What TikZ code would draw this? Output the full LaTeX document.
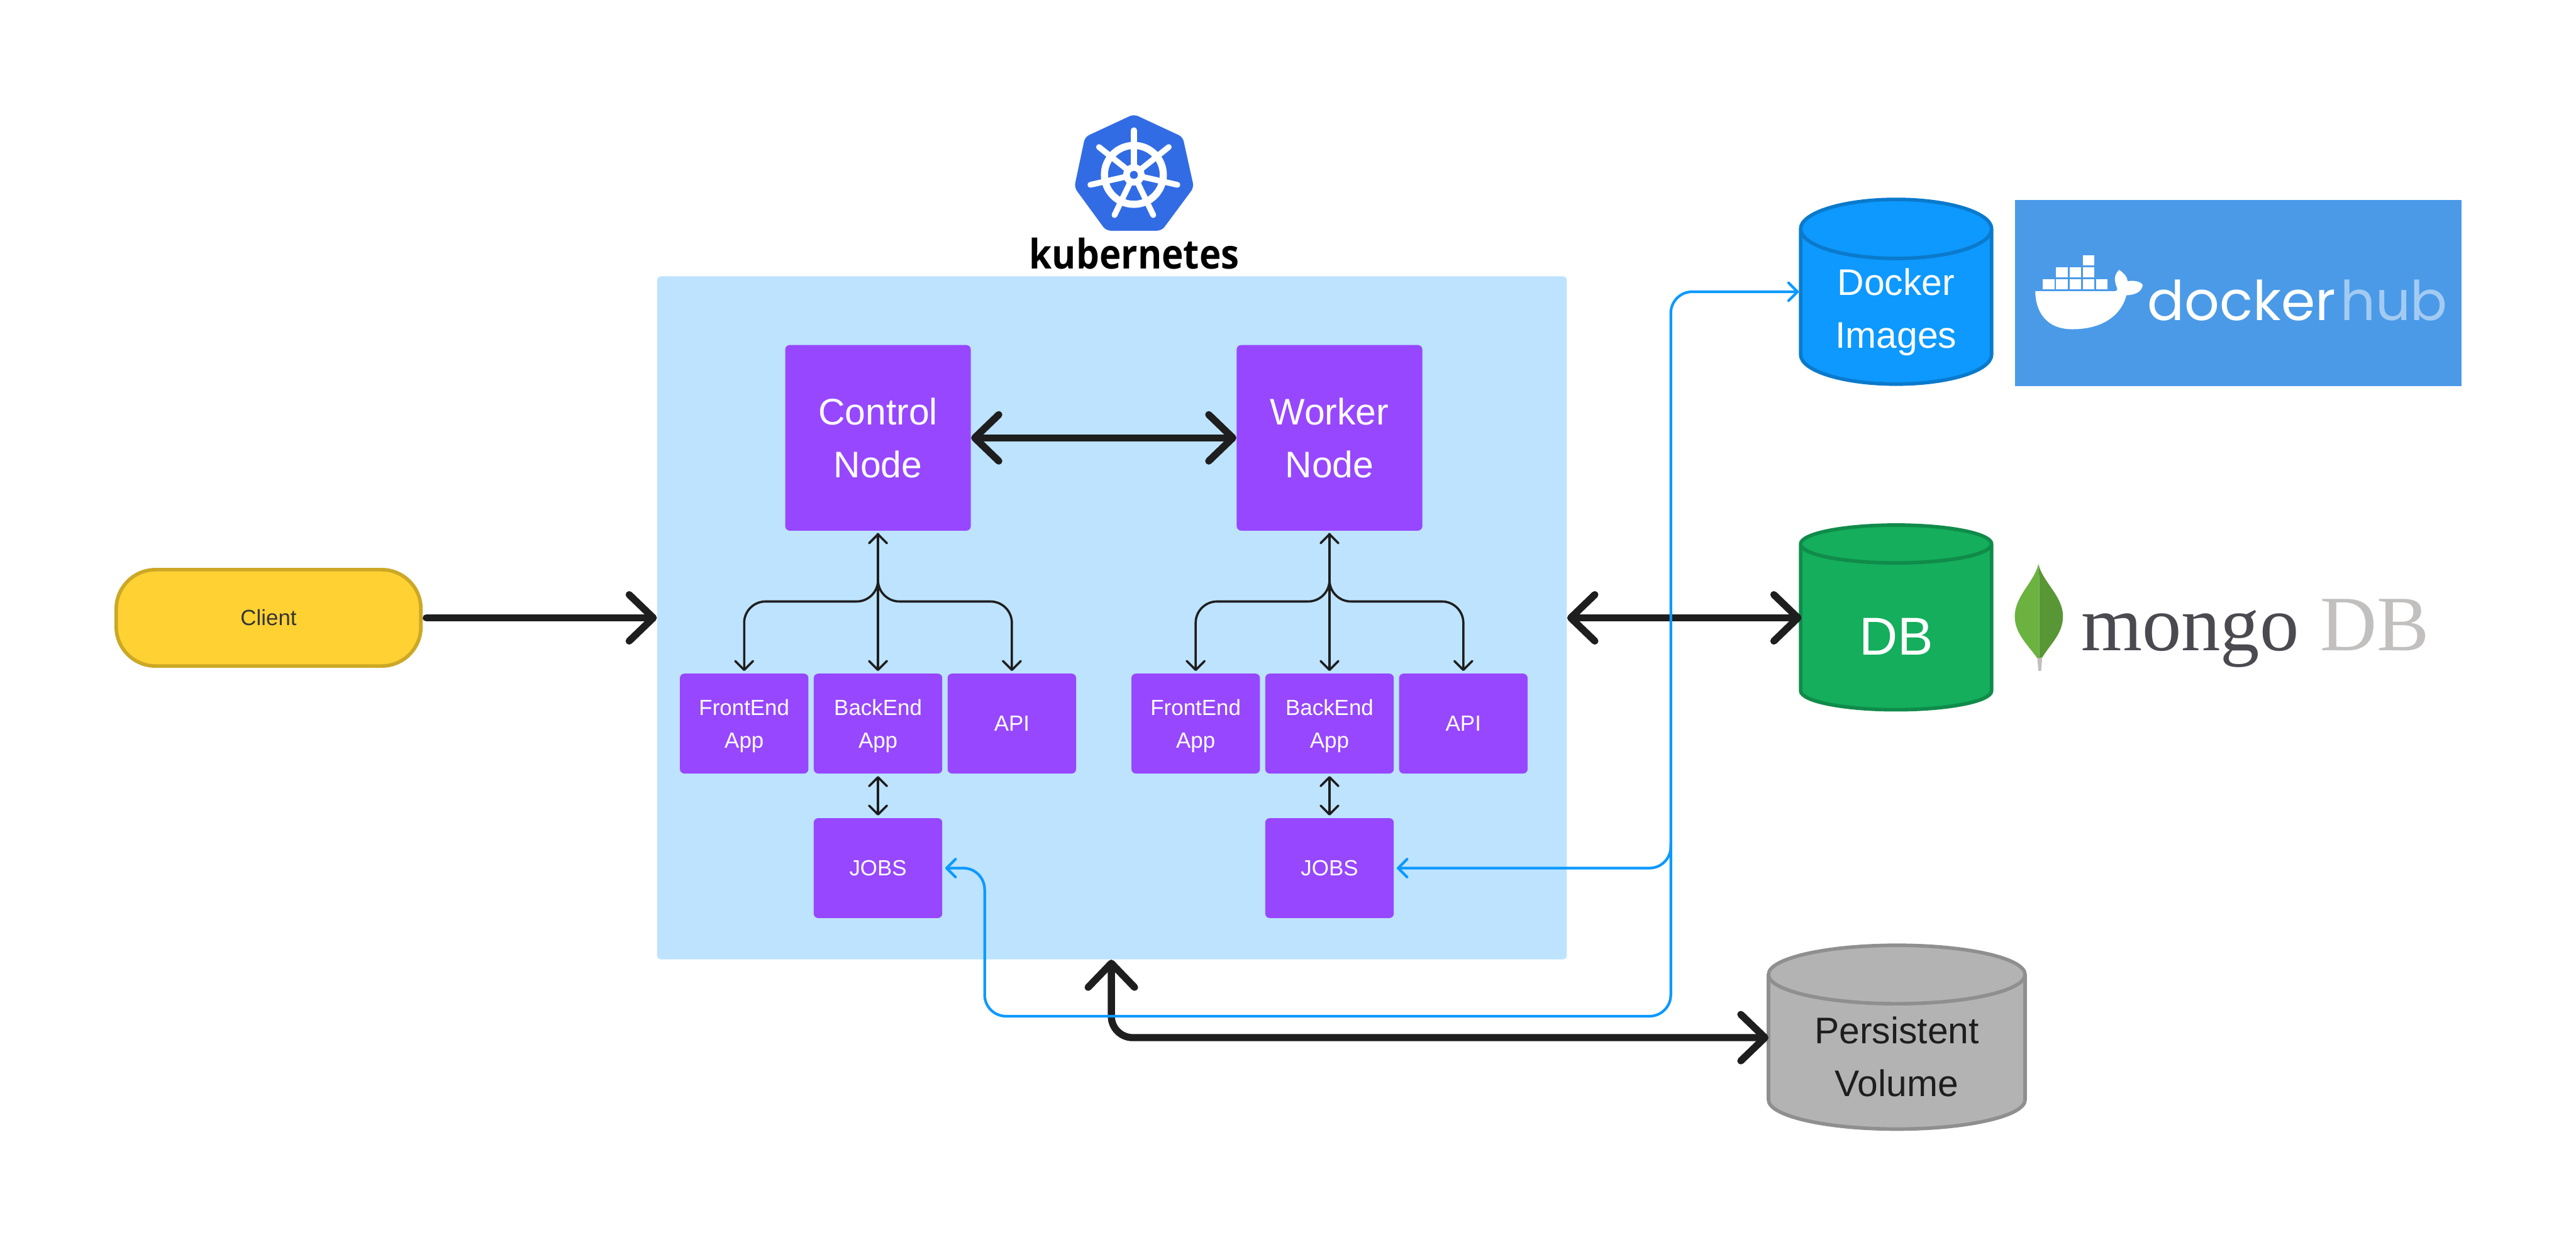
\documentclass[tikz,border=0pt]{standalone}
\usepackage{fontspec}
\setmainfont{Liberation Sans}
\newfontfamily\kubefont[FakeStretch=0.9]{Open Sans}
\newfontfamily\dockerfont{Poppins}
\newfontfamily\mongofont{Liberation Serif}
\usetikzlibrary{arrows.meta,shapes.geometric,calc}
\definecolor{k8sblue}{RGB}{50,108,229}
\definecolor{k8spurple}{RGB}{151,71,255}
\definecolor{k8slight}{RGB}{189,227,255}
\definecolor{k8sdark}{RGB}{30,30,30}
\definecolor{k8slink}{RGB}{13,153,255}
\definecolor{k8slinkdark}{RGB}{10,122,204}
\definecolor{k8sgreen}{RGB}{20,174,92}
\definecolor{k8sgreendark}{RGB}{16,139,74}
\definecolor{k8sgrey}{RGB}{179,179,179}
\definecolor{k8sgreydark}{RGB}{143,143,143}
\definecolor{k8syellow}{RGB}{255,209,51}
\definecolor{k8syellowdark}{RGB}{204,168,38}
\definecolor{dockerbg}{RGB}{74,154,232}
\definecolor{dockerhub}{RGB}{163,203,242}
\definecolor{mongodark}{RGB}{74,74,80}
\definecolor{mongolight}{RGB}{194,191,191}
\definecolor{leafleft}{RGB}{108,178,64}
\definecolor{leafright}{RGB}{89,150,54}

\begin{document}
\begin{tikzpicture}[
    x=1cm, y=-1cm,
    bigtip/.tip={Straight Barb[length=0.54cm, width=1.04cm, round]},
    smalltip/.tip={Straight Barb[length=0.2cm, width=0.4cm, round]},
    mainbox/.style={rectangle, fill=k8spurple, rounded corners=0.1cm, text=white,
                    align=center, minimum width=4.16cm, minimum height=4.16cm,
                    font=\fontsize{23.6}{33.6}\selectfont},
    appbox/.style={rectangle, fill=k8spurple, rounded corners=0.1cm, text=white,
                   align=center, minimum width=2.88cm, minimum height=2.24cm,
                   text depth=0pt, font=\fontsize{14}{20.8}\selectfont},
    store/.style={cylinder, shape border rotate=90, shape aspect=0.448, draw,
                  line width=0.08cm, minimum width=4.28cm, minimum height=4.14cm,
                  anchor=shape center, align=center,
                  font=\fontsize{23.6}{33.6}\selectfont},
    bigarr/.style={k8sdark, line width=0.16cm, rounded corners=0.48cm},
    smallarr/.style={k8sdark, line width=0.05cm, rounded corners=0.48cm,
                     shorten <=0.05cm, shorten >=0.05cm},
    linkarr/.style={k8slink, line width=0.06cm, rounded corners=0.48cm,
                    shorten <=0.06cm},
  ]
  \useasboundingbox (0,0) rectangle (57.74,27.94);

  % Cluster
  \node[rectangle, fill=k8slight, rounded corners=0.08cm, minimum width=20.39cm,
        minimum height=15.31cm] (cluster) at (24.925,13.85) {};

  % Client
  \node[rectangle, draw=k8syellowdark, fill=k8syellow, line width=0.08cm,
        rounded corners=0.88cm, minimum width=6.83cm, minimum height=2.16cm,
        text=k8sdark!90, font=\fontsize{14}{17}\selectfont] (client) at (6.02,13.85) {Client};

  % Logo kubernetes
  \fill[k8sblue, rounded corners=0.1cm] (25.415,2.56) -- (26.51,3.07) -- (26.76,4.2)
    -- (26.04,5.17) -- (24.79,5.17) -- (24.08,4.2) -- (24.32,3.07) -- cycle;
  \begin{scope}[shift={(25.415,3.92)}]
    \draw[white, line width=0.16cm] (0,0) circle (0.66cm);
    \foreach \a in {90,141.43,192.86,244.29,295.71,347.14,38.57}
      \draw[white, line width=0.13cm, line cap=round] (0,0) -- (\a:1.0cm);
    \fill[white] (0,0) circle (0.24cm);
    \fill[k8sblue] (0,0) circle (0.09cm);
  \end{scope}
  \node[font=\kubefont\fontsize{26}{30}\bfseries\selectfont, anchor=base] (kubelabel)
    at (25.425,6.02) {kubernetes};

  % Control i worker
  \foreach \i/\x/\t in {ctrl/19.68/Control, wrk/29.80/Worker} {
    \node[mainbox] (\i) at (\x,9.815) {\t\\Node};
    \node[appbox] (front\i) at (\x-3,16.22) {FrontEnd\\App};
    \node[appbox] (back\i) at (\x,16.22) {BackEnd\\App};
    \node[appbox] (api\i) at (\x+3,16.22) {API};
    \node[appbox] (jobs\i) at (\x,19.46) {JOBS};
    \draw[smallarr, -smalltip] (\i.south) |- ([yshift=1.61cm]front\i.north) -- (front\i.north);
    \draw[smallarr, -smalltip] (\i.south) |- ([yshift=1.61cm]api\i.north) -- (api\i.north);
    \draw[smallarr, smalltip-smalltip] (\i.south) -- (back\i.north);
    \draw[smallarr, smalltip-smalltip] (back\i.south) -- (jobs\i.north);
  }

  % Spremista
  \node[store, draw=k8slinkdark, fill=k8slink, text=white] (docker) at (42.5,6.54)
    {Docker\\Images};
  \node[store, draw=k8sgreendark, fill=k8sgreen, text=white, text height=1.08cm,
        font=\fontsize{34}{40}\selectfont] (db) at (42.5,13.84) {DB};
  \node[store, draw=k8sgreydark, fill=k8sgrey, text=k8sdark, minimum width=5.75cm,
        minimum height=4.12cm, shape aspect=0.334] (pv) at (42.515,23.25) {Persistent\\Volume};

  % Logo docker
  \fill[dockerbg] (45.16,4.48) rectangle (55.18,8.66);
  \foreach \c/\r in {0/0,1/0,2/0,3/0,4/0,1/1,2/1,3/1,3/2}
    \fill[white] ({45.79+\c*0.298},{6.26-\r*0.27}) rectangle +(0.26,0.23);
  \fill[white] (45.62,6.53) -- (47.39,6.53) .. controls (47.45,6.52) and (47.47,6.5) .. (47.45,6.45)
    .. controls (47.37,6.25) and (47.4,6.15) .. (47.5,6.05) .. controls (47.6,6.12) and (47.68,6.2) .. (47.69,6.305)
    .. controls (47.8,6.28) and (47.98,6.3) .. (48.03,6.39) .. controls (48.0,6.5) and (47.95,6.6) .. (47.66,6.62)
    .. controls (47.6,6.9) and (47.3,7.38) .. (46.45,7.38) .. controls (45.8,7.38) and (45.62,6.9) .. (45.62,6.53) -- cycle;
  \node[font=\dockerfont\fontsize{35}{40}\selectfont, text=white, anchor=base west, inner sep=0pt]
    (dockerlabel) at (48.13,7.18) {docker};
  \node[font=\dockerfont\fontsize{35}{40}\selectfont, text=dockerhub, anchor=base west, inner sep=0pt]
    (hublabel) at (52.45,7.18) {hub};

  % Logo mongo
  \fill[mongolight] (45.66,14.7) -- (45.69,15.04) -- (45.75,15.04) -- (45.78,14.7) -- cycle;
  \fill[leafleft] (45.69,12.64) .. controls (45.6,13.05) and (45.16,13.35) .. (45.16,13.82)
    .. controls (45.16,14.2) and (45.45,14.45) .. (45.66,14.75) -- (45.71,14.75) -- (45.71,13) -- cycle;
  \fill[leafright] (45.69,12.64) .. controls (45.78,13.05) and (46.24,13.35) .. (46.24,13.82)
    .. controls (46.24,14.2) and (45.95,14.45) .. (45.78,14.73) -- (45.71,14.75) -- (45.71,13) -- cycle;
  \node[font=\mongofont\fontsize{50}{55}\selectfont, text=mongodark, anchor=base west, inner sep=0pt]
    (mongolabel) at (46.64,14.58) {mongo};
  \node[font=\mongofont\fontsize{50}{55}\selectfont, text=mongolight, anchor=base west, inner sep=0pt]
    (mongodb) at (52.0,14.58) {DB};

  % Debele veze
  \coordinate (pvturn) at (24.91,23.26);
  \draw[bigarr, -bigtip, line cap=round, shorten <=0.08cm] (client.east) -- (cluster.west);
  \draw[bigarr, bigtip-bigtip] (ctrl.east) -- (wrk.west);
  \draw[bigarr, bigtip-bigtip, shorten >=-0.06cm] (cluster.east) -- (cluster.east -| db.west);
  \draw[bigarr, bigtip-bigtip, shorten >=-0.04cm] (cluster.south -| pvturn) -- (pvturn) -- (pvturn -| pv.west);

  % Plave veze
  \coordinate (bus) at (37.45,6.54);
  \coordinate (lane) at (22.07,22.78);
  \coordinate (join) at (37.45,18.9);
  \draw[linkarr, smalltip-smalltip] (jobswrk.east) -| (bus) -- (bus -| docker.west);
  \draw[linkarr, smalltip-] (jobsctrl.east) -| (lane) -| (join);
\end{tikzpicture}
\end{document}
